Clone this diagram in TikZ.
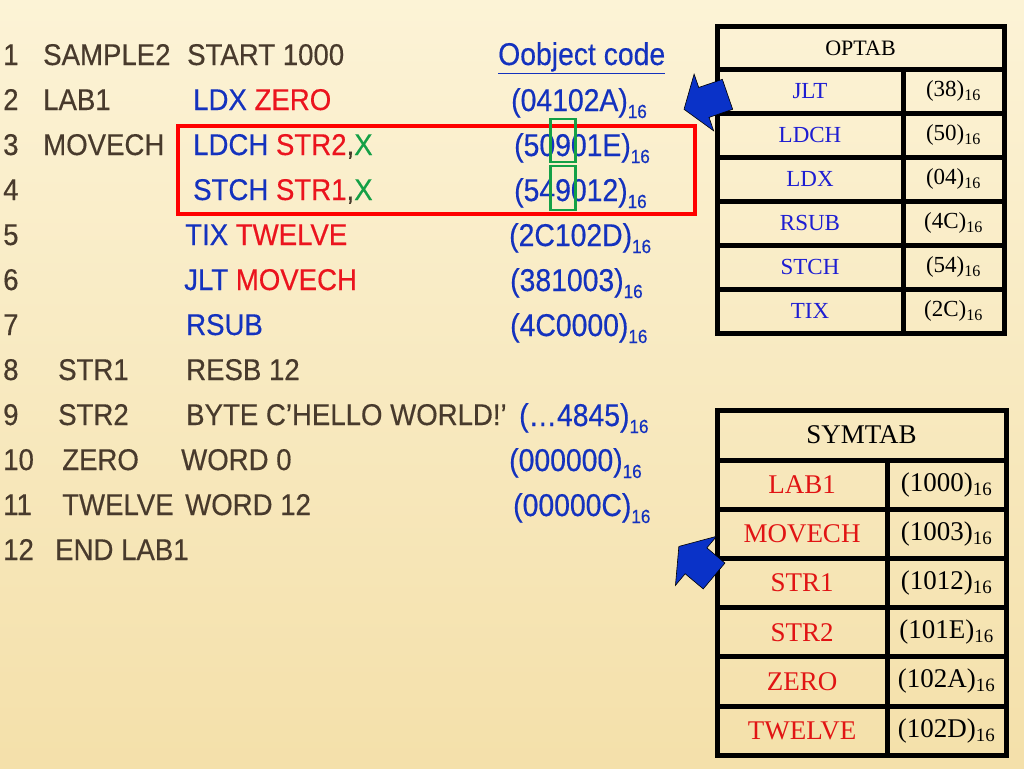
\documentclass[tikz,border=0pt]{standalone}
\usepackage{fontspec}
\usepackage{xcolor}
\usepackage{tikz}
\usetikzlibrary{positioning}
\usetikzlibrary{shapes.arrows}
\newfontfamily\codefont[FakeStretch=0.92,FakeBold=0.4]{Liberation Sans}
\newfontfamily\objfont[FakeStretch=0.9,FakeBold=0.4]{Liberation Sans}
\newfontfamily\tabfont{Liberation Serif}
\definecolor{bgtop}{RGB}{252,243,214}
\definecolor{bgbot}{RGB}{244,224,170}
\definecolor{textbrown}{RGB}{72,58,44}
\definecolor{codeblue}{RGB}{20,50,190}
\definecolor{codered}{RGB}{235,20,30}
\definecolor{codegreen}{RGB}{20,160,70}
\definecolor{tabblue}{RGB}{30,30,210}
\definecolor{tabred}{RGB}{225,20,20}
\definecolor{arrowblue}{RGB}{10,50,200}
\newcommand{\hexcode}[1]{(#1)\raisebox{-7pt}{\fontsize{19}{19}\selectfont 16}}
\newcommand{\blue}[1]{\textcolor{codeblue}{#1}}
\newcommand{\red}[1]{\textcolor{codered}{#1}}
\newcommand{\green}[1]{\textcolor{codegreen}{#1}}

\begin{document}
\begin{tikzpicture}[x=1pt, y=-1pt,
						code/.style={anchor=base west, inner sep=0pt,
							font=\codefont\fontsize{30}{32}\selectfont, text=textbrown},
						obj/.style={code, text=codeblue,
							font=\objfont\fontsize{31.5}{32}\selectfont},
						tabcell/.style={draw, line width=5pt, outer sep=0pt, inner sep=0pt,
							font=\tabfont\fontsize{22}{22}\selectfont},
						opname/.style={tabcell, minimum width=186pt, minimum height=44pt,
							text=tabblue, font=\tabfont\fontsize{23}{23}\selectfont},
						opval/.style={tabcell, minimum width=101pt, minimum height=44pt,
							font=\tabfont\fontsize{23}{23}\selectfont},
						symname/.style={tabcell, minimum width=170pt, minimum height=49.2pt,
							text=tabred, font=\tabfont\fontsize{27}{27}\selectfont},
						symval/.style={tabcell, minimum width=119pt, minimum height=49.2pt,
							font=\tabfont\fontsize{27}{27}\selectfont},
						blockarrow/.style={single arrow, draw=black, line width=0.6pt,
							fill=arrowblue, inner xsep=0pt, inner ysep=12pt,
							minimum height=46pt, single arrow head extend=11pt,
							single arrow tip angle=110}]
		\fill [top color=bgtop, bottom color=bgbot] (0,0) rectangle (1024,768);
		\useasboundingbox (0,0) rectangle (1024,768);

		% source program
		\node [code] (n1) at (3,65) {1};
		\node [code] (lbl1) at (43,65) {SAMPLE2};
		\node [code] (op1) at (187,65) {START 1000};
		\node [obj] (head) at (498,65) {\underline{Oobject code}};
		\node [code] (n2) at (3,110) {2};
		\node [code] (lbl2) at (43,110) {LAB1};
		\node [code] (op2) at (193,110) {\blue{LDX} \red{ZERO}};
		\node [obj] (obj2) at (511,111) {\hexcode{04102A}};
		\node [code] (n3) at (3,155) {3};
		\node [code] (lbl3) at (43,155) {MOVECH};
		\node [code] (op3) at (193,155) {\blue{LDCH} \red{STR2},\green{X}};
		\node [obj] (obj3) at (514,156) {\hexcode{50901E}};
		\node [code] (n4) at (3,200) {4};
		\node [code] (op4) at (193,200) {\blue{STCH} \red{STR1},\green{X}};
		\node [obj] (obj4) at (514,201) {\hexcode{549012}};
		\node [code] (n5) at (3,245) {5};
		\node [code] (op5) at (185,245) {\blue{TIX} \red{TWELVE}};
		\node [obj] (obj5) at (509,246) {\hexcode{2C102D}};
		\node [code] (n6) at (3,290) {6};
		\node [code] (op6) at (184,290) {\blue{JLT} \red{MOVECH}};
		\node [obj] (obj6) at (510,291) {\hexcode{381003}};
		\node [code] (n7) at (3,335) {7};
		\node [code] (op7) at (186,335) {\blue{RSUB}};
		\node [obj] (obj7) at (510,336) {\hexcode{4C0000}};
		\node [code] (n8) at (3,380) {8};
		\node [code] (lbl8) at (58,380) {STR1};
		\node [code] (op8) at (186,380) {RESB 12};
		\node [code] (n9) at (3,425) {9};
		\node [code] (lbl9) at (58,425) {STR2};
		\node [code] (op9) at (186,425) {BYTE C’HELLO WORLD!’};
		\node [obj] (obj9) at (519,426) {\hexcode{…4845}};
		\node [code] (n10) at (3,470) {10};
		\node [code] (lbl10) at (62,470) {ZERO};
		\node [code] (op10) at (181,470) {WORD 0};
		\node [obj] (obj10) at (509,471) {\hexcode{000000}};
		\node [code] (n11) at (3,515) {11};
		\node [code] (lbl11) at (62,515) {TWELVE};
		\node [code] (op11) at (185,515) {WORD 12};
		\node [obj] (obj11) at (513,516) {\hexcode{00000C}};
		\node [code] (n12) at (3,560) {12};
		\node [code] (op12) at (55,560) {END LAB1};

		% loop marks
		\node [draw=red, line width=4pt, inner sep=0pt, minimum width=517pt,
				minimum height=88pt] (loopbox) at (436.5,170) {};
		\node [draw=codegreen, line width=2.5pt, inner sep=0pt, minimum width=25pt,
				minimum height=43pt] (idx3) at (563,140.5) {};
		\node [draw=codegreen, line width=2.5pt, inner sep=0pt, minimum width=25pt,
				minimum height=44pt] (idx4) at (563,188) {};

		% OPTAB
		\node [tabcell, minimum width=287pt, minimum height=42pt] (optab) at (860.5,48) {OPTAB};
		\node [opname, below right=0pt and 0pt of optab.south west] (jlt) {JLT};
		\node [opval, right=0pt of jlt] (jltv) {(38)\textsubscript{16}};
		\node [opname, below=0pt of jlt] (ldch) {LDCH};
		\node [opval, right=0pt of ldch] (ldchv) {(50)\textsubscript{16}};
		\node [opname, below=0pt of ldch] (ldx) {LDX};
		\node [opval, right=0pt of ldx] (ldxv) {(04)\textsubscript{16}};
		\node [opname, below=0pt of ldx] (rsub) {RSUB};
		\node [opval, right=0pt of rsub] (rsubv) {(4C)\textsubscript{16}};
		\node [opname, below=0pt of rsub] (stch) {STCH};
		\node [opval, right=0pt of stch] (stchv) {(54)\textsubscript{16}};
		\node [opname, below=0pt of stch] (tix) {TIX};
		\node [opval, right=0pt of tix] (tixv) {(2C)\textsubscript{16}};

		% SYMTAB
		\node [tabcell, minimum width=289pt, minimum height=50pt,
				font=\tabfont\fontsize{27}{27}\selectfont] (symtab) at (861.5,435) {SYMTAB};
		\node [symname, below right=0pt and 0pt of symtab.south west] (lab) {LAB1};
		\node [symval, right=0pt of lab] (labv) {(1000)\textsubscript{16}};
		\node [symname, below=0pt of lab] (movech) {MOVECH};
		\node [symval, right=0pt of movech] (movechv) {(1003)\textsubscript{16}};
		\node [symname, below=0pt of movech] (strone) {STR1};
		\node [symval, right=0pt of strone] (stronev) {(1012)\textsubscript{16}};
		\node [symname, below=0pt of strone] (strtwo) {STR2};
		\node [symval, right=0pt of strtwo] (strtwov) {(101E)\textsubscript{16}};
		\node [symname, below=0pt of strtwo] (zero) {ZERO};
		\node [symval, right=0pt of zero] (zerov) {(102A)\textsubscript{16}};
		\node [symname, below=0pt of zero] (twelve) {TWELVE};
		\node [symval, right=0pt of twelve] (twelvev) {(102D)\textsubscript{16}};

		% pointers
		\node [blockarrow, rotate=199, minimum width=60pt] (oparrow) at (711,100) {};
		\node [blockarrow, rotate=140, minimum width=64pt] (symarrow) at (701,565) {};
	\end{tikzpicture}
\end{document}
